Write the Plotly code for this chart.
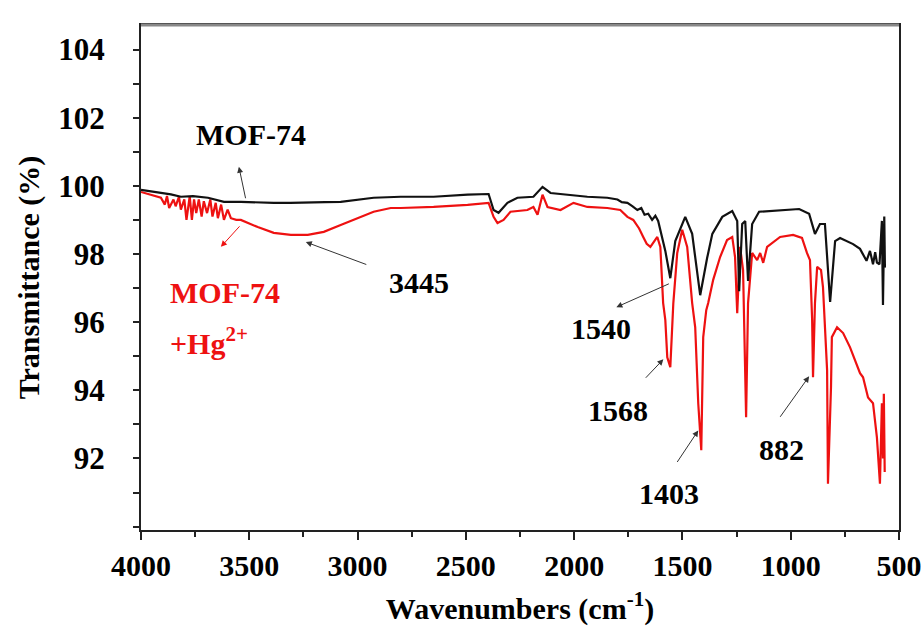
import plotly.graph_objects as go

# ---- data (wavenumber cm^-1, transmittance %) ----
mof_wn = [4000, 3908, 3862, 3816, 3760, 3691, 3617, 3539, 3460, 3387, 3310, 3230, 3150, 3078,
          3000, 2926, 2801, 2649, 2492, 2395, 2372, 2349, 2308, 2262, 2188, 2146, 2109, 2031,
          1939, 1847, 1800, 1780, 1754, 1730, 1708, 1690, 1675, 1658, 1640, 1625, 1612, 1579, 1556,
          1533, 1487, 1455, 1418, 1386, 1362,
          1316, 1270, 1247, 1238, 1224, 1210, 1197, 1178, 1146, 1086, 961, 915, 888, 865, 842,
          818, 795, 772, 712, 680, 666, 650, 634, 620, 610, 602, 590, 579, 574, 568, 565]
mof_t = [99.88, 99.79, 99.75, 99.68, 99.70, 99.65, 99.53, 99.53, 99.51, 99.50, 99.50, 99.50, 99.52, 99.53,
         99.60, 99.65, 99.68, 99.68, 99.74, 99.76, 99.29, 99.21, 99.50, 99.65, 99.68, 99.97, 99.79, 99.74,
         99.68, 99.65, 99.60, 99.52, 99.50, 99.40, 99.29, 99.35, 99.15, 99.18, 99.00, 99.12, 98.97, 98.09, 97.29,
         98.38, 99.09, 98.59, 96.79, 97.88, 98.59,
         99.09, 99.26, 98.97, 96.91, 98.88, 98.97, 97.21, 98.88, 99.24, 99.26, 99.32, 99.18, 98.59, 98.88, 98.88,
         96.59, 98.38, 98.47, 98.29, 98.15, 98.00, 97.80, 98.09, 97.70, 98.05, 97.75, 97.70, 98.97, 96.50, 99.10, 97.60]

hg_wn = [4000, 3908, 3890, 3880, 3870, 3850, 3840, 3825, 3816, 3800, 3790, 3775, 3765, 3755,
         3745, 3733, 3720, 3710, 3695, 3680, 3670, 3655, 3645, 3630, 3617, 3600, 3585, 3560,
         3539, 3461, 3387, 3308, 3230, 3156, 3078, 3000, 2926, 2847, 2801, 2649, 2492, 2395,
         2372, 2354, 2326, 2294, 2216, 2188, 2169, 2146, 2123, 2063, 2003, 1939, 1847, 1787,
         1754, 1727, 1700, 1681, 1665, 1648, 1616, 1602, 1589, 1579, 1570, 1556, 1542, 1524, 1501, 1478,
         1455, 1441, 1427, 1413, 1404, 1390, 1381, 1358, 1326, 1294, 1270, 1257, 1247, 1234,
         1220, 1206, 1197, 1178, 1155, 1141, 1127, 1109, 1049, 989, 948, 925, 911, 901, 897,
         888, 878, 860, 851, 832, 828, 814, 810, 786, 758, 726, 680, 666, 643, 620, 602, 588,
         579, 574, 570, 566]
hg_t = [99.82, 99.65, 99.45, 99.70, 99.35, 99.60, 99.40, 99.68, 99.30, 99.60, 99.00, 99.70, 99.00, 99.60,
        99.20, 99.60, 99.10, 99.55, 99.20, 99.60, 99.10, 99.50, 99.05, 99.45, 99.00, 99.30, 99.05, 99.00,
        99.00, 98.79, 98.62, 98.56, 98.56, 98.65, 98.85, 99.06, 99.24, 99.35, 99.35, 99.38, 99.44, 99.50,
        99.09, 98.91, 99.00, 99.24, 99.29, 99.38, 99.15, 99.74, 99.38, 99.29, 99.50, 99.38, 99.35, 99.29,
        99.09, 99.00, 98.75, 98.50, 98.30, 98.21, 98.50, 98.21, 96.56, 96.06, 94.97, 94.68, 96.56, 98.03, 98.71, 98.21,
        96.56, 95.85, 93.62, 92.24, 95.56, 96.35, 96.56, 97.24, 97.91, 98.41, 98.50, 97.91, 96.26, 98.21,
        97.53, 93.21, 96.56, 98.03, 97.82, 98.03, 97.74, 98.21, 98.50, 98.56, 98.47, 98.03, 97.82, 96.06, 94.38,
        96.56, 97.62, 97.53, 97.03, 94.59, 91.26, 94.09, 95.56, 95.85, 95.68, 95.26, 94.50, 94.38, 93.79, 93.62, 92.62, 91.26,
        93.62, 92.0, 93.9, 91.6]

x_ticks = [4000, 3500, 3000, 2500, 2000, 1500, 1000, 500]
y_ticks = [92, 94, 96, 98, 100, 102, 104]

# peak labels: (text, label wn, label T, arrow-head wn, arrow-head T, tail dx, tail dy)
peak_labels = [
    ("3445", 2718, 97.15, 3239, 98.35, 62, 23),
    ("1540", 1874, 95.82, 1805, 96.44, 54, -24),
    ("1568", 1796, 93.41, 1588, 94.91, -19, 20),
    ("1403", 1561, 90.97, 1427, 92.82, -22, 33),
    ("882", 1044, 92.26, 915, 94.41, -30, 42),
]

FONT = "Liberation Serif, Times New Roman, serif"
RED = "#ee1111"

fig = go.Figure()
fig.add_trace(go.Scatter(x=hg_wn, y=hg_t, mode="lines", name="MOF-74+Hg2+",
                         line=dict(color=RED, width=2.2)))
fig.add_trace(go.Scatter(x=mof_wn, y=mof_t, mode="lines", name="MOF-74",
                         line=dict(color="#111111", width=2.2)))

ann = []
for txt, lx, ly, hx, hy, dx, dy in peak_labels:
    ann.append(dict(x=lx, y=ly, xref="x", yref="y", text=txt, showarrow=False,
                    font=dict(family=FONT, size=30, color="black", weight="bold")))
    ann.append(dict(x=hx, y=hy, xref="x", yref="y", text="", showarrow=True,
                    ax=dx, ay=dy, arrowhead=2, arrowsize=1.2, arrowwidth=1, arrowcolor="#333"))

# series labels
ann.append(dict(x=3493, y=101.5, xref="x", yref="y", text="MOF-74", showarrow=False,
                font=dict(family=FONT, size=30, color="black", weight="bold")))
ann.append(dict(x=3548, y=100.56, xref="x", yref="y", text="", showarrow=True,
                ax=7, ay=33, arrowhead=2, arrowsize=1.2, arrowwidth=1, arrowcolor="#333"))
ann.append(dict(x=3875, y=96.88, xref="x", yref="y", text="MOF-74", showarrow=False,
                xanchor="left", font=dict(family=FONT, size=30, color=RED, weight="bold")))
ann.append(dict(x=3875, y=95.45, xref="x", yref="y", text="+Hg<sup>2+</sup>", showarrow=False,
                xanchor="left", font=dict(family=FONT, size=30, color=RED, weight="bold")))
ann.append(dict(x=3631, y=98.21, xref="x", yref="y", text="", showarrow=True,
                ax=20, ay=-22, arrowhead=2, arrowsize=1.2, arrowwidth=1, arrowcolor=RED))

fig.update_layout(
    width=921, height=626,
    margin=dict(l=141, r=22, t=25, b=96, autoexpand=False),
    paper_bgcolor="white", plot_bgcolor="white",
    showlegend=False,
    annotations=ann,
    font=dict(family=FONT, color="black"),
    shapes=[dict(type="line", xref="paper", yref="paper", x0=0, x1=1, y0=1, y1=1,
                 line=dict(color="#888", width=3))],
)
fig.update_xaxes(
    range=[4000, 500], tickvals=x_ticks, ticktext=[str(v) for v in x_ticks],
    automargin=False,
    ticks="outside", ticklen=8, tickwidth=2, tickcolor="#222",
    minor=dict(dtick=250, ticks="outside", ticklen=5, tickwidth=1.5, tickcolor="#222", tick0=500),
    showline=True, linecolor="#222", linewidth=2, mirror=True, showgrid=False, zeroline=False,
    tickfont=dict(family=FONT, size=30, color="black", weight="bold"), ticklabelstandoff=0,
    ticklabeloverflow="allow",
    title=dict(text="Wavenumbers (cm<sup>-1</sup>)", standoff=22,
               font=dict(family=FONT, size=30, color="black", weight="bold")),
)
fig.update_yaxes(
    range=[89.9, 104.72], tickvals=y_ticks, ticktext=[str(v) for v in y_ticks],
    automargin=False,
    ticks="outside", ticklen=6, tickwidth=2, tickcolor="#222",
    minor=dict(dtick=1, ticks="outside", ticklen=6, tickwidth=2, tickcolor="#222", tick0=90),
    showline=True, linecolor="#222", linewidth=2, mirror=True, showgrid=False, zeroline=False,
    tickfont=dict(family=FONT, size=31, color="black", weight="bold"), ticklabelstandoff=22,
    title=dict(text="Transmittance (%)", standoff=10,
               font=dict(family=FONT, size=30, color="black", weight="bold")),
)

fig.write_html("out.html")
